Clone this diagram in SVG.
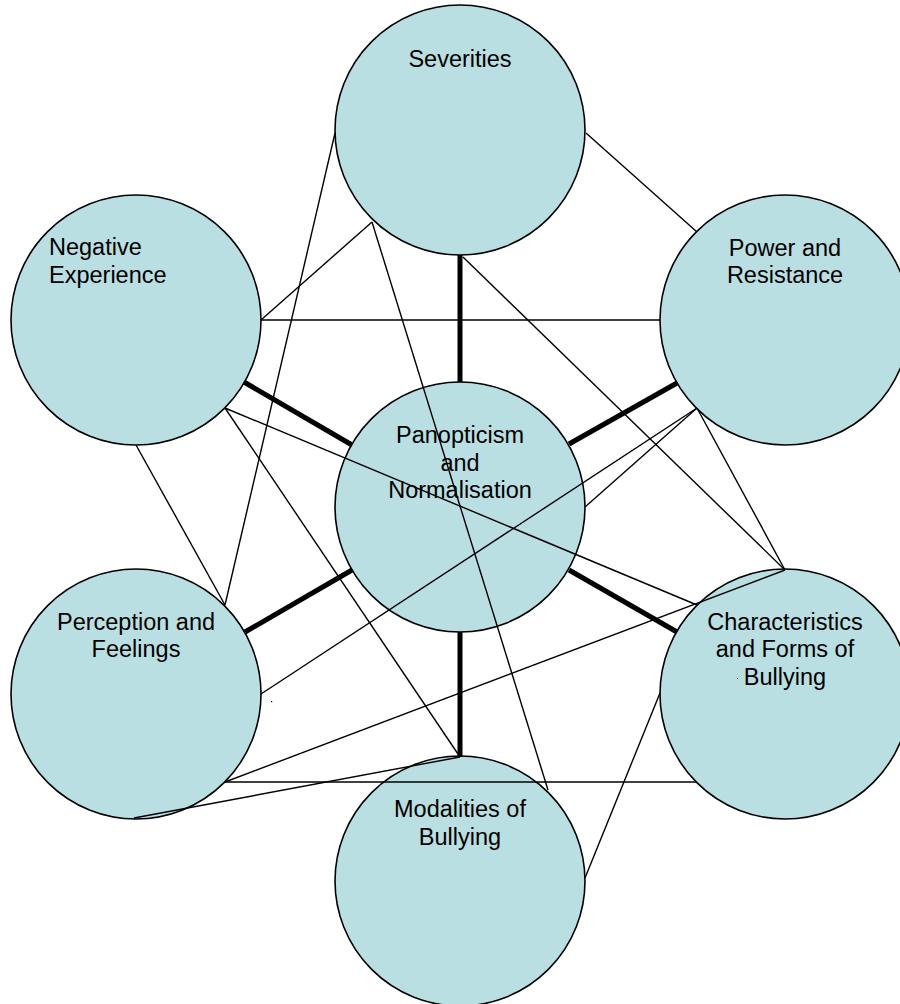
<svg xmlns="http://www.w3.org/2000/svg" width="900" height="1004" viewBox="0 0 900 1004">
<style>
.node circle{fill:#b9dfe2;stroke:#000;stroke-width:1.6}
.node text{font-family:"Liberation Sans",Arial,sans-serif;font-size:23.5px;fill:#000}
.c{text-anchor:middle}
.thin{stroke:#000;stroke-width:1.4;fill:none}
.thick{stroke:#000;stroke-width:5;fill:none}
</style>
<rect width="900" height="1004" fill="#fff"/>
<g id="severities" class="node"><circle cx="460" cy="130" r="125"/><text class="c" x="460" y="66.5">Severities</text></g>
<g id="negative-experience" class="node"><circle cx="136" cy="320" r="125"/><text x="49" y="255">Negative</text><text x="49" y="283">Experience</text></g>
<g id="power-resistance" class="node"><circle cx="785" cy="320" r="125"/><text class="c" x="785" y="255.5">Power and</text><text class="c" x="785" y="283">Resistance</text></g>
<g id="panopticism" class="node"><circle cx="460" cy="507" r="125"/><text class="c" x="460" y="443">Panopticism</text><text class="c" x="460" y="470.5">and</text><text class="c" x="460" y="498">Normalisation</text></g>
<g id="perception-feelings" class="node"><circle cx="136" cy="694" r="125"/><text class="c" x="136" y="629.5">Perception and</text><text class="c" x="136" y="657">Feelings</text></g>
<g id="characteristics" class="node"><circle cx="785" cy="694" r="125"/><text class="c" x="785" y="629.5">Characteristics</text><text class="c" x="785" y="657">and Forms of</text><text class="c" x="785" y="684.5">Bullying</text><rect x="737" y="678" width="1" height="1" fill="#000"/></g>
<g id="modalities" class="node"><circle cx="460" cy="881" r="125"/><text class="c" x="460" y="817">Modalities of</text><text class="c" x="460" y="845">Bullying</text></g>
<g id="connectors">
<line class="thick" x1="460" y1="255" x2="460" y2="382"/>
<line class="thick" x1="244" y1="382" x2="352" y2="445"/>
<line class="thick" x1="677" y1="383" x2="569" y2="444"/>
<line class="thick" x1="352" y1="570" x2="245" y2="632"/>
<line class="thick" x1="569" y1="570" x2="677" y2="632"/>
<line class="thick" x1="460" y1="632" x2="460" y2="757"/>
<line class="thin" x1="586" y1="133" x2="697" y2="232"/>
<line class="thin" x1="261" y1="320" x2="660" y2="320"/>
<line class="thin" x1="261" y1="320" x2="372" y2="222"/>
<line class="thin" x1="372" y1="222" x2="548" y2="790"/>
<line class="thin" x1="335" y1="133" x2="225" y2="605"/>
<line class="thin" x1="225" y1="408" x2="460" y2="757"/>
<line class="thin" x1="225" y1="408" x2="697" y2="605"/>
<line class="thin" x1="136" y1="445" x2="225" y2="605"/>
<line class="thin" x1="697" y1="408" x2="585" y2="507"/>
<line class="thin" x1="697" y1="408" x2="261" y2="694"/>
<line class="thin" x1="697" y1="408" x2="785" y2="570"/>
<line class="thin" x1="463" y1="257" x2="785" y2="570"/>
<line class="thin" x1="785" y1="570" x2="225" y2="782"/>
<line class="thin" x1="225" y1="782" x2="697" y2="782"/>
<line class="thin" x1="134" y1="818" x2="460" y2="757"/>
<line class="thin" x1="585" y1="878" x2="660" y2="693"/>
<rect x="271" y="701" width="1.2" height="1.2" fill="#000"/>
</g>
</svg>
